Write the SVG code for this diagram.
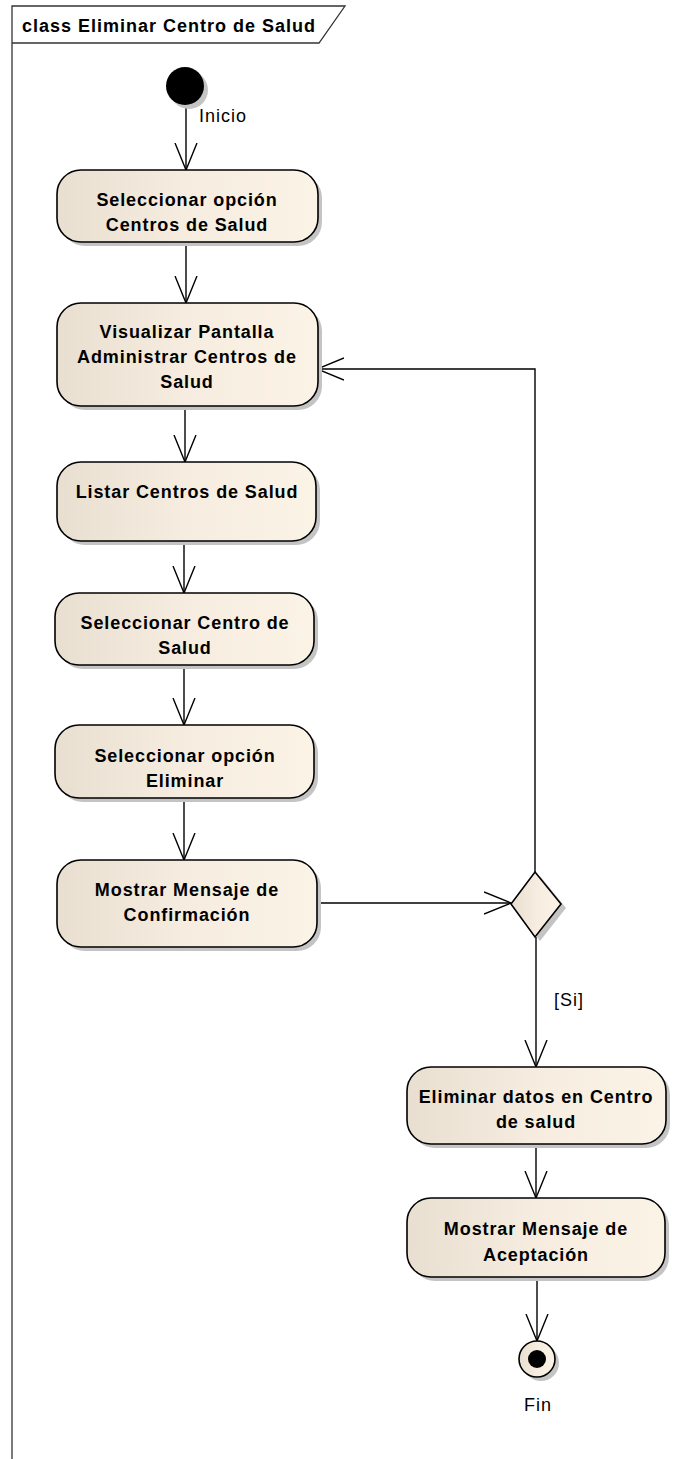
<svg xmlns="http://www.w3.org/2000/svg" width="695" height="1459" viewBox="0 0 695 1459">
  <style>
    .frame { fill: none; stroke: #333; stroke-width: 1.3; }
    .title { font-family: "Liberation Sans", Arial, sans-serif; font-size: 18px; font-weight: bold; letter-spacing: 1px; fill: #000; }
    .act { fill: url(#actFill); stroke: #000; stroke-width: 1.6; }
    .shadow { fill: #c4c4c4; stroke: none; }
    .lbl { font-family: "Liberation Sans", Arial, sans-serif; font-size: 18px; font-weight: bold; letter-spacing: 0.9px; fill: #000; text-anchor: middle; }
    .note { font-family: "Liberation Sans", Arial, sans-serif; font-size: 18px; letter-spacing: 1px; fill: #000; }
    .flow { fill: none; stroke: #000; stroke-width: 1.4; marker-end: url(#open); }
  </style>
  <defs>
    <linearGradient id="actFill" x1="0" y1="0" x2="1" y2="0">
      <stop offset="0" stop-color="#e8dfd1"/>
      <stop offset="0.5" stop-color="#f6ede0"/>
      <stop offset="1" stop-color="#fbf3e6"/>
    </linearGradient>
    <marker id="open" markerUnits="userSpaceOnUse" viewBox="0 0 28 24" refX="27" refY="12" markerWidth="28" markerHeight="24" orient="auto">
      <path d="M0,1 L27,12 L0,23" fill="none" stroke="#000" stroke-width="1.4"/>
    </marker>
  </defs>

  <rect width="695" height="1459" fill="#fff"/>

  <!-- diagram frame with name tab -->
  <g id="frame">
    <path class="frame" d="M12,1459 V6 H345 L319,43 H12"/>
    <text class="title" x="22" y="32">class Eliminar Centro de Salud</text>
  </g>

  <!-- control flows -->
  <g id="connectors">
    <path class="flow" d="M186,105 V170"/>
    <path class="flow" d="M186,242 V303"/>
    <path class="flow" d="M185,406 V462"/>
    <path class="flow" d="M184,541 V593"/>
    <path class="flow" d="M184,665 V725"/>
    <path class="flow" d="M184,798 V860"/>
    <path class="flow" d="M317,903 H511"/>
    <path class="flow" d="M535,872 V369 H317"/>
    <path class="flow" d="M536,937 V1067"/>
    <path class="flow" d="M536,1144 V1198"/>
    <path class="flow" d="M537,1277 V1341"/>
    <text class="note" x="199" y="122">Inicio</text>
    <text class="note" x="554" y="1006">[Si]</text>
  </g>

  <g id="inicio">
    <circle class="shadow" cx="189" cy="90" r="19"/>
    <circle cx="185" cy="86" r="19" fill="#000"/>
  </g>

  <g id="sel-opcion-centros">
    <rect class="shadow" x="61" y="174" width="261" height="72" rx="24"/>
    <rect class="act" x="57" y="170" width="261" height="72" rx="24"/>
    <text class="lbl" x="187" y="206">Seleccionar opción</text>
    <text class="lbl" x="187" y="231">Centros de Salud</text>
  </g>

  <g id="visualizar-pantalla">
    <rect class="shadow" x="61" y="307" width="261" height="103" rx="24"/>
    <rect class="act" x="57" y="303" width="261" height="103" rx="24"/>
    <text class="lbl" x="187" y="338">Visualizar Pantalla</text>
    <text class="lbl" x="187" y="363">Administrar Centros de</text>
    <text class="lbl" x="187" y="388">Salud</text>
  </g>

  <g id="listar-centros">
    <rect class="shadow" x="61" y="466" width="259" height="79" rx="24"/>
    <rect class="act" x="57" y="462" width="259" height="79" rx="24"/>
    <text class="lbl" x="187" y="498">Listar Centros de Salud</text>
  </g>

  <g id="sel-centro">
    <rect class="shadow" x="59" y="597" width="259" height="72" rx="24"/>
    <rect class="act" x="55" y="593" width="259" height="72" rx="24"/>
    <text class="lbl" x="185" y="629">Seleccionar Centro de</text>
    <text class="lbl" x="185" y="654">Salud</text>
  </g>

  <g id="sel-opcion-eliminar">
    <rect class="shadow" x="59" y="729" width="259" height="73" rx="24"/>
    <rect class="act" x="55" y="725" width="259" height="73" rx="24"/>
    <text class="lbl" x="185" y="762">Seleccionar opción</text>
    <text class="lbl" x="185" y="787">Eliminar</text>
  </g>

  <g id="mostrar-confirmacion">
    <rect class="shadow" x="61" y="864" width="260" height="87" rx="24"/>
    <rect class="act" x="57" y="860" width="260" height="87" rx="24"/>
    <text class="lbl" x="187" y="896">Mostrar Mensaje de</text>
    <text class="lbl" x="187" y="921">Confirmación</text>
  </g>

  <g id="decision">
    <polygon class="shadow" points="540,876 566,908 540,941 515,908"/>
    <polygon class="act" points="535,872 561,904 535,937 511,904"/>
  </g>

  <g id="eliminar-datos">
    <rect class="shadow" x="411" y="1071" width="259" height="77" rx="24"/>
    <rect class="act" x="407" y="1067" width="259" height="77" rx="24"/>
    <text class="lbl" x="536" y="1103">Eliminar datos en Centro</text>
    <text class="lbl" x="536" y="1128">de salud</text>
  </g>

  <g id="mostrar-aceptacion">
    <rect class="shadow" x="411" y="1202" width="258" height="79" rx="24"/>
    <rect class="act" x="407" y="1198" width="258" height="79" rx="24"/>
    <text class="lbl" x="536" y="1235">Mostrar Mensaje de</text>
    <text class="lbl" x="536" y="1261">Aceptación</text>
  </g>

  <g id="fin">
    <circle class="shadow" cx="541" cy="1363" r="18"/>
    <circle class="act" cx="537" cy="1359" r="18"/>
    <circle cx="537" cy="1359" r="9" fill="#000"/>
    <text class="note" x="524" y="1411">Fin</text>
  </g>
</svg>
